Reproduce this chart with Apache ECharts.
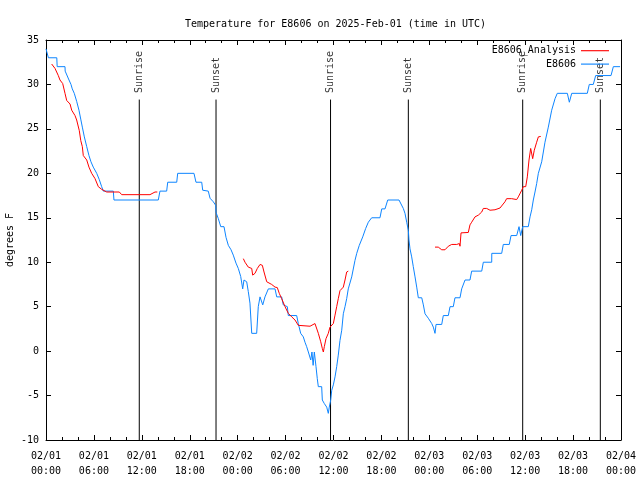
<!DOCTYPE html>
<html><head><meta charset="utf-8">
<script src="https://cdn.jsdelivr.net/npm/echarts@6/dist/echarts.min.js"></script>
<style>html,body{margin:0;padding:0;background:#fff}#c{width:640px;height:480px}</style>
</head><body><div id="c"></div>
<script>
const titleText = 'Temperature for E8606 on 2025-Feb-01 (time in UTC)';
const yAxisTitle = 'degrees F';
const stationName = 'E8606';
const analysisName = 'E8606_Analysis';
// x values are hours since 2025-02-01 00:00 UTC
const xTickLabels = ['02/01\n00:00','02/01\n06:00','02/01\n12:00','02/01\n18:00','02/02\n00:00','02/02\n06:00','02/02\n12:00','02/02\n18:00','02/03\n00:00','02/03\n06:00','02/03\n12:00','02/03\n18:00','02/04\n00:00'];
const sunNames = ['Sunrise','Sunset','Sunrise','Sunset','Sunrise','Sunset'];
const sunHours = [11.68,21.29,35.63,45.37,59.69,69.41];
const sunLineTop = 28.3;

const station = [[0,34.0],[0.3,33.0],[1.35,33.0],[1.4,32.0],[2.38,32.0],[2.4,31.5],[2.88,30.5],[3.13,30.0],[3.29,29.5],[3.54,29.0],[3.84,28.1],[4.13,27.1],[4.35,26.1],[4.55,25.2],[4.8,24.1],[5.1,23.0],[5.38,22.0],[5.63,21.3],[5.92,20.7],[6.35,20.0],[6.67,19.3],[6.97,18.5],[7.18,18.0],[8.43,18.0],[8.51,17.0],[14.06,17.0],[14.27,18.0],[15.11,18.0],[15.24,19.0],[16.37,19.0],[16.49,20.0],[18.53,20.0],[18.78,19.0],[19.5,19.0],[19.62,18.1],[20.32,18.0],[20.54,17.2],[20.95,16.8],[21.25,16.4],[21.29,15.6],[21.58,14.9],[21.88,14.0],[22.29,14.0],[22.54,12.8],[22.83,11.9],[23.17,11.4],[23.45,10.8],[23.79,9.9],[24.08,9.3],[24.38,8.4],[24.63,7.0],[24.79,8.0],[25.13,7.8],[25.33,6.7],[25.54,5.4],[25.76,2.0],[26.38,2.0],[26.58,5.0],[26.8,6.1],[27.01,6.1],[27.14,5.2],[27.42,6.1],[27.84,7.0],[28.68,7.0],[28.89,6.1],[29.51,6.1],[29.71,5.2],[30.22,5.0],[30.34,4.0],[31.39,4.0],[31.59,3.1],[31.89,2.0],[32.22,1.6],[32.43,1.0],[32.64,0.5],[32.85,-0.1],[33.0,-0.3],[33.15,-1.0],[33.3,-0.1],[33.45,-1.6],[33.6,-0.1],[33.81,-1.75],[33.97,-3.1],[34.1,-4.0],[34.52,-4.0],[34.6,-5.5],[34.85,-5.9],[35.15,-6.3],[35.35,-7.0],[35.47,-6.3],[35.65,-5.5],[35.78,-4.4],[35.98,-3.8],[36.19,-2.9],[36.4,-1.75],[36.6,-0.45],[36.81,1.2],[37.03,2.35],[37.23,4.2],[37.44,5.0],[37.65,5.9],[37.85,7.0],[38.28,8.35],[38.69,10.2],[38.91,11.0],[39.23,11.9],[39.66,12.85],[40.03,13.8],[40.36,14.5],[40.78,15.0],[41.82,15.0],[42.04,16.0],[42.45,16.0],[42.79,17.0],[44.2,17.0],[44.33,16.8],[44.74,16.05],[44.95,15.5],[45.17,14.5],[45.37,13.6],[45.45,12.5],[45.58,11.5],[45.79,10.6],[45.99,9.5],[46.21,8.35],[46.42,7.2],[46.62,6.0],[47.05,6.0],[47.25,5.2],[47.46,4.2],[47.87,3.7],[48.3,3.1],[48.5,2.7],[48.71,2.0],[48.84,3.0],[49.55,3.0],[49.75,4.0],[50.38,4.0],[50.59,5.0],[51.0,5.0],[51.21,6.0],[51.84,6.0],[52.05,7.0],[52.47,8.0],[53.09,8.0],[53.3,9.0],[54.56,9.0],[54.76,10.0],[55.81,10.0],[55.82,11.0],[57.06,11.0],[57.26,12.0],[58.01,12.0],[58.23,13.0],[58.94,13.0],[59.23,14.0],[59.44,13.0],[59.69,14.0],[60.39,14.0],[60.61,15.1],[60.82,15.9],[61.02,17.0],[61.23,17.9],[61.44,18.85],[61.65,20.0],[62.07,21.3],[62.48,23.5],[62.9,25.2],[63.32,27.1],[63.74,28.4],[64.02,29.0],[65.28,29.0],[65.53,28.0],[65.83,29.0],[67.78,29.0],[68.03,30.0],[68.53,30.0],[68.83,31.0],[70.75,31.0],[71.04,32.0],[71.88,32.0]];

const analysisSeg1 = [[0.71,32.3],[0.91,32.3],[1.13,31.8],[1.54,31.0],[1.75,30.5],[2.09,30.1],[2.38,29.0],[2.59,28.2],[3.01,27.8],[3.22,27.1],[3.63,26.5],[3.84,26.0],[4.17,24.8],[4.35,23.7],[4.55,23.0],[4.67,22.0],[5.1,21.5],[5.38,20.7],[5.72,20.0],[6.14,19.4],[6.55,18.5],[6.97,18.2],[7.6,17.9],[9.18,17.9],[9.48,17.6],[13.02,17.6],[13.24,17.7],[13.65,17.9],[13.94,17.9]];
const analysisSeg2 = [[24.71,10.4],[24.92,10.0],[25.33,9.45],[25.76,9.3],[25.88,8.55],[26.17,8.75],[26.46,9.3],[26.8,9.75],[27.09,9.65],[27.3,8.9],[27.64,7.8],[27.84,7.6],[28.26,7.5],[28.68,7.2],[28.96,7.15],[29.21,6.5],[29.51,5.9],[29.93,5.0],[30.34,4.25],[30.77,3.85],[31.18,3.5],[31.59,2.9],[31.81,2.8],[33.06,2.8],[33.68,3.1],[33.9,2.9],[34.1,2.0],[34.4,1.05],[34.6,0.3],[34.73,-0.1],[34.85,0.5],[35.06,1.4],[35.35,2.0],[35.56,2.7],[35.98,3.1],[36.19,4.05],[36.4,5.0],[36.6,5.9],[36.81,6.8],[37.23,7.2],[37.44,8.0],[37.65,8.9],[37.85,9.0]];
const analysisSeg3 = [[48.71,11.7],[49.12,11.7],[49.55,11.4],[49.96,11.4],[50.38,11.8],[50.8,12.0],[51.43,12.0],[51.76,12.1],[51.84,11.8],[51.97,13.3],[52.88,13.35],[53.09,14.2],[53.3,14.5],[53.72,15.1],[54.14,15.3],[54.56,15.65],[54.76,16.05],[55.18,16.05],[55.6,15.85],[56.22,15.9],[56.85,16.1],[57.06,16.2],[57.47,16.8],[57.68,17.15],[58.31,17.15],[58.94,17.05],[59.14,17.35],[59.57,18.1],[59.77,18.5],[60.07,18.5],[60.27,19.6],[60.48,21.5],[60.69,22.8],[60.89,22.8],[60.94,21.65],[61.14,22.6],[61.44,23.5],[61.65,24.1],[61.95,24.15]];

const FONT = 'DejaVu Sans Mono';
const RED = '#ff0000';
const BLUE = '#0d85ff';

const chart = echarts.init(document.getElementById('c'), null, {renderer: 'canvas'});

const lineCommon = {type: 'line', symbol: 'none', showSymbol: false, animation: false, xAxisIndex: 0, yAxisIndex: 0};
const series = [];
sunHours.forEach((h, i) => {
  series.push({type: 'line', name: 'sun' + i, symbol: 'none', animation: false, silent: true,
    data: [[h, -10], [h, sunLineTop]], lineStyle: {color: '#000', width: 1}, z: 1});
});
series.push({type: 'scatter', name: 'sunLabels', animation: false, silent: true, symbolSize: 1,
  itemStyle: {color: 'rgba(0,0,0,0)'},
  data: sunHours.map(h => [h, sunLineTop]),
  label: {show: true, position: 'top', distance: 6, rotate: 90, align: 'left', verticalAlign: 'middle',
    fontFamily: FONT, fontSize: 10, color: '#000', formatter: p => sunNames[p.dataIndex]}, z: 1});
[analysisSeg1, analysisSeg2, analysisSeg3].forEach(seg => {
  series.push(Object.assign({}, lineCommon, {name: analysisName, data: seg, lineStyle: {color: RED, width: 1}, itemStyle: {color: RED}, z: 3}));
});
series.push(Object.assign({}, lineCommon, {name: stationName, data: station, lineStyle: {color: BLUE, width: 1}, itemStyle: {color: BLUE}, z: 2}));

const xCommon = {type: 'value', min: 0, max: 72, interval: 6,
  axisLine: {show: true, onZero: false, lineStyle: {color: '#000', width: 1}},
  axisTick: {show: true, inside: true, length: 5, lineStyle: {color: '#000'}},
  minorTick: {show: true, splitNumber: 3, length: 3, lineStyle: {color: '#000'}},
  splitLine: {show: false}};
const yCommon = {type: 'value', min: -10, max: 35, interval: 5,
  axisLine: {show: true, onZero: false, lineStyle: {color: '#000', width: 1}},
  axisTick: {show: true, inside: true, length: 5, lineStyle: {color: '#000'}},
  splitLine: {show: false}};

chart.setOption({
  animation: false,
  backgroundColor: '#fff',
  title: {text: titleText, left: 180, top: 14,
    textStyle: {fontFamily: FONT, fontSize: 10, fontWeight: 'normal', color: '#000'}},
  legend: {data: [analysisName, stationName], orient: 'vertical', right: 31, top: 44, padding: 0, align: 'right',
    icon: 'path://M0,0H100V4H0Z',
    itemWidth: 28, itemHeight: 13, itemGap: 0, selectedMode: false,
    textStyle: {fontFamily: FONT, fontSize: 10, color: '#000', lineHeight: 13.4}},
  grid: {left: 46, right: 19, top: 40, bottom: 40, containLabel: false, outerBoundsMode: 'none'},
  xAxis: [
    Object.assign({}, xCommon, {position: 'bottom',
      axisLabel: {show: true, margin: 9, fontFamily: FONT, fontSize: 10, color: '#000', lineHeight: 15,
        formatter: v => xTickLabels[Math.round(v / 6)]}}),
    Object.assign({}, xCommon, {position: 'top', axisLabel: {show: false}})
  ],
  yAxis: [
    Object.assign({}, yCommon, {position: 'left', name: yAxisTitle, nameLocation: 'middle', nameGap: 31, nameRotate: 90,
      nameMoveOverlap: false,
      nameTextStyle: {fontFamily: FONT, fontSize: 10, color: '#000'},
      axisLabel: {show: true, margin: 7, fontFamily: FONT, fontSize: 10, color: '#000'}}),
    Object.assign({}, yCommon, {position: 'right', axisLabel: {show: false}})
  ],
  series: series
});
</script></body></html>
